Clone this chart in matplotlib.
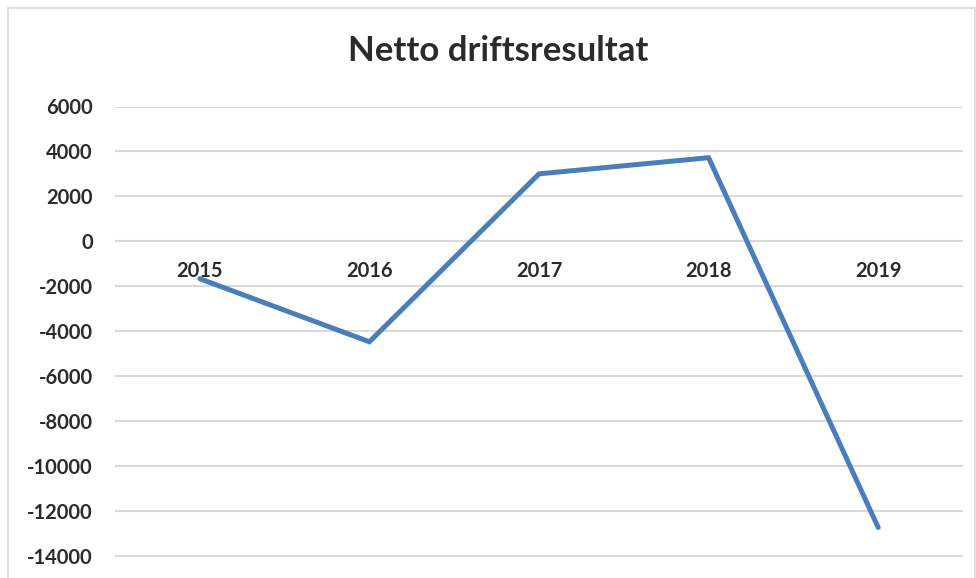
import matplotlib
matplotlib.use("Agg")
import matplotlib.pyplot as plt
from matplotlib.patches import Rectangle
from matplotlib.transforms import offset_copy

years = ["2015", "2016", "2017", "2018", "2019"]
values = [-1670, -4480, 3000, 3720, -12750]
yticks = [6000, 4000, 2000, 0, -2000, -4000, -6000, -8000, -10000, -12000, -14000]

W, H = 976, 578
fig = plt.figure(figsize=(W / 100, H / 100), dpi=100)
fig.patch.set_facecolor("white")

# chart border (top and left visible)
fig.add_artist(Rectangle((8 / W, -0.05), (975 - 8) / W, (H - 8) / H + 0.05,
                         transform=fig.transFigure, fill=False,
                         edgecolor="#d9d9d9", linewidth=1.2))

ax_left, ax_right = 115 / W, 963 / W
ax_top = (H - 106.5) / H
ax = fig.add_axes([ax_left, 0, ax_right - ax_left, ax_top])
ax.set_ylim(-15000, 6000)
ax.set_xlim(-0.5, len(years) - 0.5)

for s in ax.spines.values():
    s.set_visible(False)
ax.set_yticks(yticks)
ax.set_yticklabels([str(v) for v in yticks])
ax.tick_params(axis="y", length=0, pad=16, labelsize=14.5, labelcolor="#2b2b2b")
for lbl in ax.get_yticklabels():
    lbl.set_fontfamily("Lato")
    lbl.set_fontweight("bold")
ax.set_xticks([])
ax.yaxis.grid(True, color="#d9d9d9", linewidth=1.5)
ax.set_axisbelow(True)

x = list(range(len(years)))
ax.plot(x, values, color="#4a7ebb", linewidth=3.6, solid_capstyle="round",
        solid_joinstyle="miter", zorder=3)

trans = offset_copy(ax.transData, fig=fig, x=0, y=-30, units="dots")
for i, yr in enumerate(years):
    ax.text(i, 0, yr, transform=trans, ha="center", va="center",
            fontsize=14.5, fontfamily="Lato", fontweight="bold", color="#2b2b2b",
            zorder=2)

fig.text(498 / W, 1 - 51 / H, "Netto driftsresultat", ha="center", va="center",
         fontsize=25, fontfamily="Lato", fontweight="bold", color="#2b2b2b")

fig.savefig("out.png", dpi=100)
